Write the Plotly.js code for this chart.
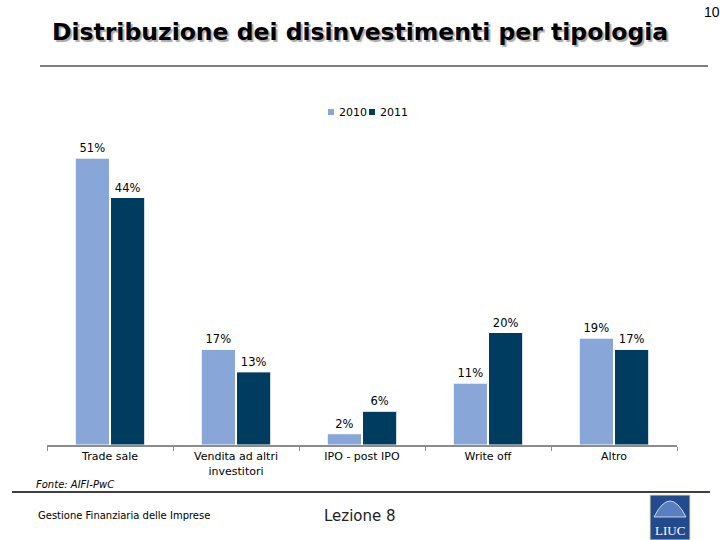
<!DOCTYPE html>
<html>
<head>
<meta charset="utf-8">
<script src="https://cdn.plot.ly/plotly-3.0.1.min.js"></script>
<style>html,body{margin:0;padding:0;background:#fff;}#chart{width:720px;height:540px;}</style>
</head>
<body>
<div id="chart"></div>
<script>
const categories = ["Trade sale", "Vendita ad altri<br>investitori", "IPO - post IPO", "Write off", "Altro"];
const values2010 = [51, 17, 2, 11, 19];
const values2011 = [44, 13, 6, 20, 17];
const seriesNames = ["2010", "2011"];
const seriesColors = ["#88a6d8", "#003c60"];

const labelFont = {family: "DejaVu Sans, Verdana, sans-serif", size: 11, color: "#000"};
const dataFont = {family: "DejaVu Sans, Verdana, sans-serif", size: 11.5, color: "#000"};

const traces = [
  {
    type: "bar", name: seriesNames[0], x: categories, y: values2010,
    text: values2010.map(v => v + "%"), textposition: "outside", cliponaxis: false,
    textfont: dataFont,
    marker: {color: seriesColors[0], line: {color: "#ffffff", width: 1}}
  },
  {
    type: "bar", name: seriesNames[1], x: categories, y: values2011,
    text: values2011.map(v => v + "%"), textposition: "outside", cliponaxis: false,
    textfont: dataFont,
    marker: {color: seriesColors[1], line: {color: "#ffffff", width: 1}}
  }
];

// plot area: left 47, width 630, top 130, height 315
const px = x => (x - 47) / 630;
const py = y => (445 - y) / 315;

const legendShapes = [];
const legendAnn = [];
const legendX = [331, 372];
seriesNames.forEach((n, i) => {
  legendShapes.push({type: "rect", xref: "paper", yref: "paper",
    x0: px(legendX[i] - 3), x1: px(legendX[i] + 3), y0: py(115), y1: py(109),
    fillcolor: seriesColors[i], line: {width: 0}});
  legendAnn.push({text: n, xref: "paper", yref: "paper", x: px(legendX[i] + 6), y: py(112),
    xanchor: "left", yanchor: "middle", showarrow: false,
    font: {family: "DejaVu Sans, Verdana, sans-serif", size: 11, color: "#000"}});
});

const layout = {
  width: 720, height: 540,
  margin: {l: 47, r: 43, t: 130, b: 95},
  paper_bgcolor: "#ffffff", plot_bgcolor: "#ffffff",
  barmode: "group", bargap: 0.44, bargroupgap: 0.03,
  showlegend: false,
  title: {
    text: "<b>Distribuzione dei disinvestimenti per tipologia</b>",
    x: 0.497, xanchor: "center", xref: "paper",
    y: 1 - 32/540, yref: "container", yanchor: "middle",
    font: {family: "DejaVu Sans, Verdana, sans-serif", size: 23.5, color: "#000", shadow: "2px 2px 1px #aaaaaa"}
  },
  xaxis: {
    showline: true, linecolor: "#8c8c8c", linewidth: 2,
    ticks: "outside", tickson: "boundaries", ticklen: 4, tickcolor: "#8c8c8c",
    tickfont: labelFont, showgrid: false, fixedrange: true
  },
  yaxis: {
    range: [0, 56], visible: false, showgrid: false, zeroline: false, fixedrange: true
  },
  shapes: [
    {type: "line", xref: "paper", yref: "paper", x0: px(40), x1: px(708), y0: py(66), y1: py(66), line: {color: "#000", width: 1}},
    {type: "line", xref: "paper", yref: "paper", x0: px(12), x1: px(710), y0: py(492), y1: py(492), line: {color: "#000", width: 1.5}},
    {type: "rect", xref: "paper", yref: "paper", x0: px(650), x1: px(690), y0: py(540), y1: py(495), fillcolor: "#234a8c", line: {color: "#e8e4a0", width: 1}},
    {type: "path", xref: "paper", yref: "paper",
      path: "M " + px(654) + "," + py(517) + " Q " + px(670) + "," + py(485) + " " + px(686) + "," + py(517) + " Z",
      fillcolor: "#5a7fbf", line: {color: "#c8d4ea", width: 1}}
  ].concat(legendShapes),
  annotations: [
    {text: "10", xref: "paper", yref: "paper", x: px(712), y: py(12), xanchor: "center", yanchor: "middle", showarrow: false,
      font: {family: "Liberation Sans Narrow, Liberation Sans, sans-serif", size: 14, color: "#000"}},
    {text: "<i>Fonte: AIFI-PwC</i>", xref: "paper", yref: "paper", x: px(34), y: py(484), xanchor: "left", yanchor: "middle", showarrow: false,
      font: {family: "DejaVu Sans, Verdana, sans-serif", size: 10, color: "#000"}},
    {text: "Gestione Finanziaria delle Imprese", xref: "paper", yref: "paper", x: px(36), y: py(515), xanchor: "left", yanchor: "middle", showarrow: false,
      font: {family: "DejaVu Sans, Verdana, sans-serif", size: 10, color: "#000"}},
    {text: "Lezione 8", xref: "paper", yref: "paper", x: px(360), y: py(516), xanchor: "center", yanchor: "middle", showarrow: false,
      font: {family: "DejaVu Sans, Verdana, sans-serif", size: 15, color: "#222"}},
    {text: "LIUC", xref: "paper", yref: "paper", x: px(670), y: py(530), xanchor: "center", yanchor: "middle", showarrow: false,
      font: {family: "Liberation Serif, DejaVu Serif, serif", size: 13, color: "#ffffff"}}
  ].concat(legendAnn)
};

Plotly.newPlot("chart", traces, layout, {displayModeBar: false, staticPlot: true});
</script>
</body>
</html>
